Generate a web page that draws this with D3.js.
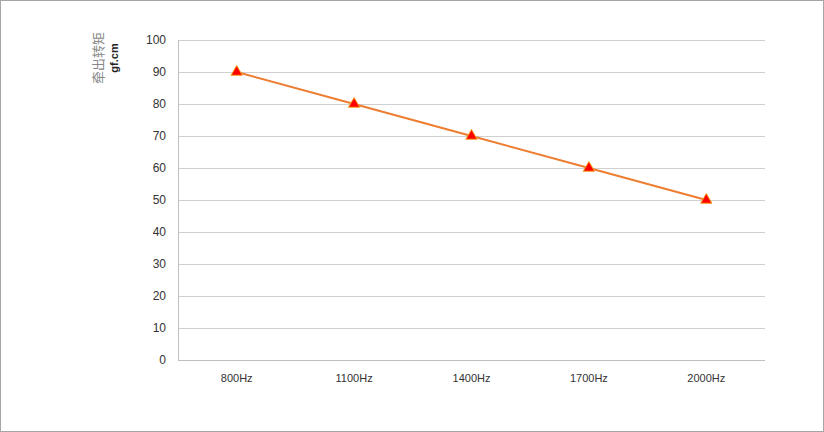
<!DOCTYPE html>
<html><head><meta charset="utf-8">
<script src="https://cdn.jsdelivr.net/npm/d3@7"></script>
<style>body{margin:0;background:#fff}svg{display:block}</style>
</head><body>
<svg id="c" width="824" height="432"></svg>
<script>
const categories = ["800Hz","1100Hz","1400Hz","1700Hz","2000Hz"];
const values = [90, 80, 70, 60, 50];
const yTicks = [0,10,20,30,40,50,60,70,80,90,100];
const yTitle = "牵出转矩";
const yUnit = "gf.cm";

const svg = d3.select("#c");
const W = 824, H = 432;
const m = {left:178, right:59, top:40, bottom:72};
const x = d3.scaleBand().domain(categories).range([m.left, W - m.right]);
const y = d3.scaleLinear().domain([0,100]).range([H - m.bottom, m.top]);

svg.append("rect").attr("x",0.5).attr("y",0.5).attr("width",W-1).attr("height",H-1)
  .attr("fill","#fff").attr("stroke","#a6a6a6");

// gridlines
svg.append("g").selectAll("line").data(yTicks.filter(d=>d>0)).join("line")
  .attr("x1",m.left).attr("x2",W-m.right)
  .attr("y1",d=>Math.round(y(d))+0.5).attr("y2",d=>Math.round(y(d))+0.5)
  .attr("stroke","#d0d0d0").attr("stroke-width",1);

// axes lines
svg.append("line").attr("x1",m.left+0.5).attr("x2",m.left+0.5).attr("y1",m.top).attr("y2",H-m.bottom)
  .attr("stroke","#bfbfbf");
svg.append("line").attr("x1",m.left).attr("x2",W-m.right).attr("y1",H-m.bottom+0.5).attr("y2",H-m.bottom+0.5)
  .attr("stroke","#bfbfbf");

const font = "'Liberation Sans', Arial, sans-serif";
// y tick labels
svg.append("g").selectAll("text").data(yTicks).join("text")
  .attr("x",166).attr("y",d=>y(d)).attr("dy","0.35em").attr("text-anchor","end")
  .attr("font-family",font).attr("font-size",12).attr("fill","#333").text(d=>d);

// x tick labels
svg.append("g").selectAll("text").data(categories).join("text")
  .attr("x",d=>x(d)+x.bandwidth()/2).attr("y",382).attr("text-anchor","middle")
  .attr("font-family",font).attr("font-size",11).attr("fill","#333").text(d=>d);

// y title
svg.append("text").attr("transform","translate(103,58) rotate(-90)").attr("text-anchor","middle")
  .attr("font-family","'Noto Sans CJK SC', sans-serif").attr("font-size",13).attr("fill","#888").text(yTitle);
svg.append("text").attr("transform","translate(118,58) rotate(-90)").attr("text-anchor","middle")
  .attr("font-family",font).attr("font-weight","bold").attr("font-size",11).attr("fill","#222").text(yUnit);

// line
const line = d3.line().x((d,i)=>x(categories[i])+x.bandwidth()/2).y(d=>y(d));
svg.append("path").datum(values).attr("d",line).attr("fill","none")
  .attr("stroke","#ED7D31").attr("stroke-width",2);

// markers
const tri = d3.symbol().type(d3.symbolTriangle).size(55);
svg.append("g").selectAll("path").data(values).join("path")
  .attr("transform",(d,i)=>`translate(${x(categories[i])+x.bandwidth()/2},${y(d)})`)
  .attr("d",tri).attr("fill","#FF0000").attr("stroke","#F4A020").attr("stroke-width",1);
</script>
</body></html>
